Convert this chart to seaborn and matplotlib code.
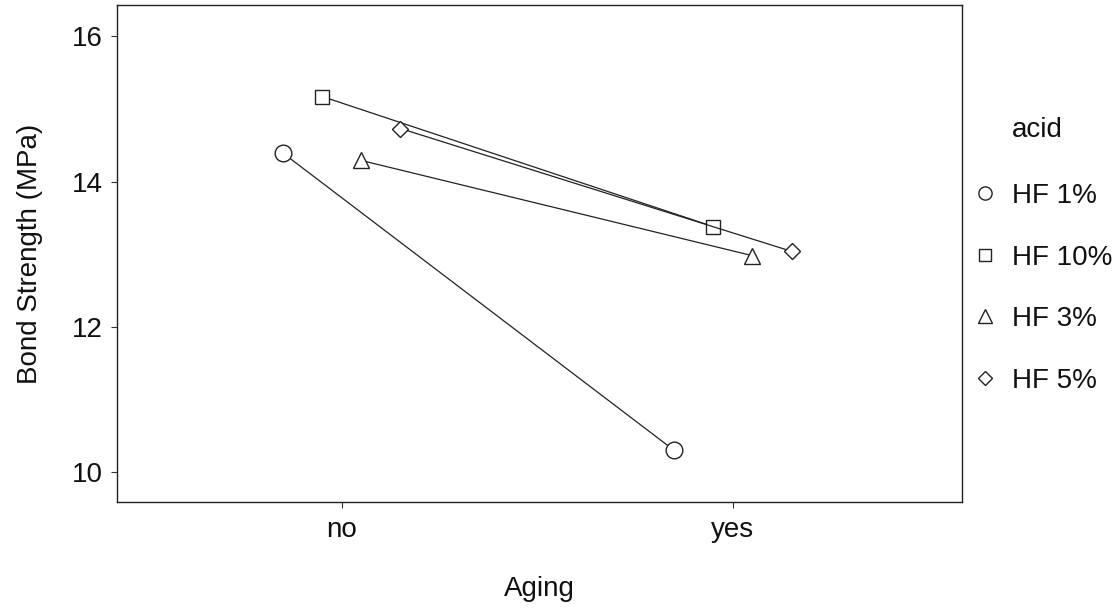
import matplotlib
matplotlib.use("Agg")
import matplotlib.pyplot as plt
import seaborn as sns
import pandas as pd
from matplotlib.lines import Line2D

aging = ["no", "yes"]
acids = ["HF 1%", "HF 10%", "HF 3%", "HF 5%"]
hf1 = [14.39, 10.30]
hf10 = [15.17, 13.38]
hf3 = [14.29, 12.98]
hf5 = [14.73, 13.04]

rows = []
for name, vals in zip(acids, [hf1, hf10, hf3, hf5]):
    for a, v in zip(aging, vals):
        rows.append({"Aging": a, "acid": name, "Bond": v})
df = pd.DataFrame(rows)

sns.set_theme(style="white")
plt.rcParams['font.family'] = ['Liberation Sans', 'DejaVu Sans']

fig = plt.figure(figsize=(11.2, 6.09), dpi=100)
ax = fig.add_axes([117/1120, 1-502/609, (962-117)/1120, (502-5)/609])

markers = ["o", "s", "^", "D"]
sns.pointplot(data=df, x="Aging", y="Bond", hue="acid", hue_order=acids,
              order=aging, dodge=0.3, markers=markers, linestyles="-",
              palette=["#222222"]*4, errorbar=None, ax=ax, legend=False)

sizes = {"o": 12, "s": 10.5, "^": 11, "D": 8}
for ln in ax.lines:
    m = ln.get_marker()
    ln.set_markerfacecolor("white")
    ln.set_markeredgecolor("#222222")
    ln.set_markeredgewidth(1.0)
    ln.set_linewidth(0.9)
    ln.set_color("#222222")
    if m in sizes:
        ln.set_markersize(sizes[m])

ax.set_xlim(-0.575, 1.586)
ax.set_ylim(9.59, 16.43)
ax.set_yticks([10, 12, 14, 16])
ax.set_xlabel("Aging", fontsize=20, labelpad=24, color="#111111")
ax.set_ylabel("Bond Strength (MPa)", fontsize=20, labelpad=20.5, color="#111111")
ax.tick_params(axis="both", labelsize=20, length=4, width=0.8, color="#333333",
               labelcolor="#111111", direction="out", bottom=True, left=True)
ax.tick_params(axis="y", pad=6.5)
ax.tick_params(axis="x", pad=6.5)
for s in ax.spines.values():
    s.set_color("#222222")
    s.set_linewidth(1.0)

handles = [Line2D([], [], linestyle="none", marker=m, markersize=s, markerfacecolor="white",
                  markeredgecolor="#222222", markeredgewidth=1.0)
           for m, s in zip(markers, [9.5, 8, 9.5, 7])]
leg = fig.legend(handles, acids, loc="upper left", bbox_to_anchor=(963/1120, 1-172/609),
                 frameon=False, fontsize=20, labelspacing=1.28, handlelength=0.8,
                 handletextpad=0.58, borderaxespad=0)
for t in leg.get_texts():
    t.set_color("#111111")
fig.text(1012/1120, 1-130/609, "acid", fontsize=20, va="center", ha="left", color="#111111")

fig.savefig("out.png", dpi=100)
